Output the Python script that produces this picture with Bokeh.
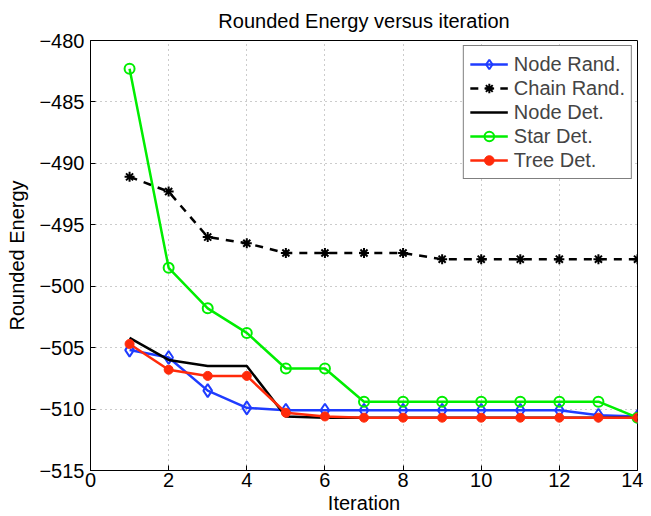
from bokeh.plotting import figure
from bokeh.models import FixedTicker, Legend, LegendItem, Range1d
from bokeh.embed import file_html
from bokeh.resources import INLINE

iterations = list(range(1, 15))
node_rand = [-505.2, -505.8, -508.5, -509.9, -510.1, -510.1, -510.1, -510.1, -510.1, -510.1, -510.1, -510.1, -510.5, -510.6]
chain_rand = [-491.1, -492.3, -496.0, -496.5, -497.3, -497.3, -497.3, -497.3, -497.8, -497.8, -497.8, -497.8, -497.8, -497.8]
node_det = [-504.2, -506.0, -506.5, -506.5, -510.6, -510.7, -510.7, -510.7, -510.7, -510.7, -510.7, -510.7, -510.7, -510.7]
star_det = [-482.3, -498.5, -501.8, -503.8, -506.7, -506.7, -509.4, -509.4, -509.4, -509.4, -509.4, -509.4, -509.4, -510.7]
tree_det = [-504.7, -506.8, -507.3, -507.3, -510.3, -510.6, -510.7, -510.7, -510.7, -510.7, -510.7, -510.7, -510.7, -510.7]

x_ticks = [0, 2, 4, 6, 8, 10, 12, 14]
y_ticks = [-515, -510, -505, -500, -495, -490, -485, -480]
y_tick_labels = {t: "\u2212" + str(abs(t)) for t in y_ticks}

FONT = "Liberation Sans"
FS = "20px"

p = figure(width=643, height=516, output_backend="svg", toolbar_location=None,
           x_range=Range1d(0, 14), y_range=Range1d(-515, -480),
           title="Rounded Energy versus iteration",
           min_border_left=90, min_border_right=6, min_border_top=40, min_border_bottom=46)

p.title.align = "center"
p.title.vertical_align = "top"
p.title.text_font = FONT
p.title.text_font_size = FS
p.title.text_font_style = "normal"
p.title.text_color = "black"
p.title.offset = 0
p.title.standoff = 14

for ax in (p.xaxis[0], p.yaxis[0]):
    ax.major_label_text_font = FONT
    ax.major_label_text_font_size = FS
    ax.axis_label_text_font = FONT
    ax.axis_label_text_font_size = FS
    ax.axis_label_text_font_style = "normal"
    ax.major_tick_in = 5
    ax.major_tick_out = 0
    ax.minor_tick_line_color = None
    ax.axis_line_color = "black"
    ax.major_tick_line_color = "black"
    ax.major_label_text_color = "black"
    ax.axis_label_text_color = "black"

p.xaxis.ticker = FixedTicker(ticks=x_ticks)
p.yaxis.ticker = FixedTicker(ticks=y_ticks)
p.yaxis.major_label_overrides = y_tick_labels
p.xaxis.axis_label = "Iteration"
p.yaxis.axis_label = "Rounded Energy"
p.xaxis.major_label_standoff = 2
p.yaxis.major_label_standoff = 6
p.xaxis.axis_label_standoff = 2
p.yaxis.axis_label_standoff = 8

p.xgrid.ticker = FixedTicker(ticks=x_ticks)
p.ygrid.ticker = FixedTicker(ticks=y_ticks)
p.grid.grid_line_color = "#999999"
p.grid.grid_line_dash = "1 4"
p.grid.grid_line_width = 1

p.outline_line_color = "black"
p.outline_line_width = 1
p.background_fill_color = "white"
p.border_fill_color = "white"

# Series
r1l = p.line(iterations, node_rand, line_color="#1f3cff", line_width=2.5)
r1m = p.scatter(iterations, node_rand, marker="diamond", size=13, line_color="#1f3cff",
                fill_color="white", fill_alpha=0, line_width=2)
r2l = p.line(iterations, chain_rand, line_color="black", line_width=2.5, line_dash="8 7")
r2m = p.scatter(iterations, chain_rand, marker="asterisk", size=10, line_color="black", line_width=2)
r3l = p.line(iterations, node_det, line_color="black", line_width=2.5)
r4l = p.line(iterations, star_det, line_color="#00ee00", line_width=2.5)
r4m = p.scatter(iterations, star_det, marker="circle", size=10, line_color="#00ee00",
                fill_color="white", fill_alpha=0, line_width=2)
r5l = p.line(iterations, tree_det, line_color="#ff2a0a", line_width=2.5)
r5m = p.scatter(iterations, tree_det, marker="circle", size=9, line_color="#ff2a0a",
                fill_color="#ff2a0a", line_width=1)

legend = Legend(items=[
    LegendItem(label="Node Rand.", renderers=[r1l, r1m]),
    LegendItem(label="Chain Rand.", renderers=[r2l, r2m]),
    LegendItem(label="Node Det.", renderers=[r3l]),
    LegendItem(label="Star Det.", renderers=[r4l, r4m]),
    LegendItem(label="Tree Det.", renderers=[r5l, r5m]),
], location="top_right")
legend.label_text_font = FONT
legend.label_text_font_size = FS
legend.label_height = 24
legend.glyph_height = 24
legend.glyph_width = 38
legend.label_standoff = 6
legend.spacing = 0
legend.padding = 6
legend.margin = 5
legend.border_line_color = "black"
legend.border_line_width = 1
legend.background_fill_alpha = 1
p.add_layout(legend)

open("out.html", "w").write(file_html(p, INLINE))
